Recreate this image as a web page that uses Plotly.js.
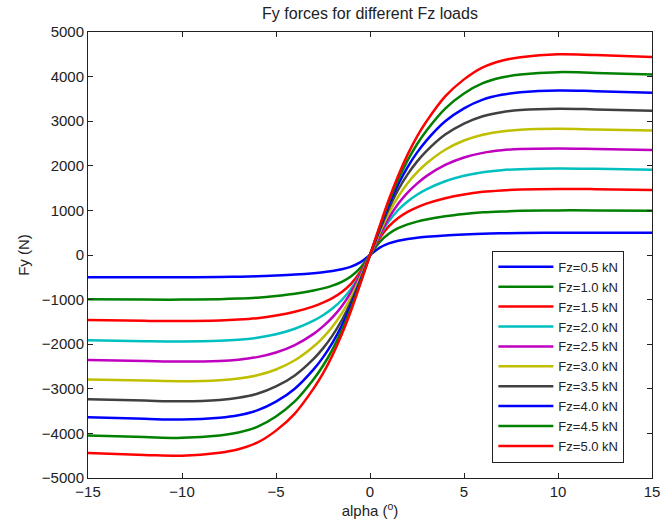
<!DOCTYPE html>
<html>
<head>
<meta charset="utf-8">
<script src="https://cdn.plot.ly/plotly-3.0.1.min.js"></script>
<style>
html,body{margin:0;padding:0;background:#fff;}
#chart{width:664px;height:528px;}
</style>
</head>
<body>
<div id="chart"></div>
<script>
// slip angle alpha (degrees)
const alpha = [-15,-12,-10,-8,-7,-6,-5,-4,-3,-2.5,-2,-1.5,-1,-0.5,0,0.5,1,1.5,2,2.5,3,4,5,6,7,8,10,12,15];

// lateral force Fy (N) for each vertical load
const fy05 = [-500,-500,-500,-494,-488,-478,-460,-438,-408,-388,-360,-320,-260,-160,0,160,260,320,360,388,408,438,460,478,488,494,500,500,500];
const fy10 = [-990,-999,-1000,-990,-977,-956,-919,-868,-796,-749,-686,-600,-476,-285,0,285,476,600,686,749,796,868,919,956,977,990,1000,999,990];
const fy15 = [-1460,-1476,-1480,-1467,-1448,-1416,-1358,-1273,-1151,-1069,-966,-829,-640,-370,0,370,640,829,966,1069,1151,1273,1358,1416,1448,1467,1480,1476,1460];
const fy20 = [-1910,-1933,-1940,-1925,-1902,-1857,-1778,-1654,-1472,-1351,-1200,-1009,-754,-417,0,417,754,1009,1200,1351,1472,1654,1778,1857,1902,1925,1940,1933,1910];
const fy25 = [-2354,-2378,-2390,-2376,-2347,-2290,-2187,-2020,-1769,-1601,-1398,-1147,-825,-430,0,430,825,1147,1398,1601,1769,2020,2187,2290,2347,2376,2390,2378,2354];
const fy30 = [-2789,-2816,-2830,-2808,-2771,-2698,-2567,-2361,-2052,-1851,-1608,-1310,-937,-487,0,487,937,1310,1608,1851,2052,2361,2567,2698,2771,2808,2830,2816,2789];
const fy35 = [-3233,-3265,-3280,-3249,-3202,-3112,-2948,-2700,-2329,-2093,-1807,-1463,-1039,-538,0,538,1039,1463,1807,2093,2329,2700,2948,3112,3202,3249,3280,3265,3233];
const fy40 = [-3639,-3674,-3690,-3648,-3593,-3484,-3288,-2997,-2565,-2295,-1971,-1583,-1118,-576,0,576,1118,1583,1971,2295,2565,2997,3288,3484,3593,3648,3690,3674,3639];
const fy45 = [-4045,-4083,-4100,-4046,-3980,-3853,-3621,-3284,-2788,-2484,-2120,-1689,-1185,-606,0,606,1185,1689,2120,2484,2788,3284,3621,3853,3980,4046,4100,4083,4045];
const fy50 = [-4442,-4482,-4500,-4433,-4356,-4208,-3938,-3555,-2993,-2655,-2250,-1778,-1238,-630,0,630,1238,1778,2250,2655,2993,3555,3938,4208,4356,4433,4500,4482,4442];

const seriesNames = ['Fz=0.5 kN','Fz=1.0 kN','Fz=1.5 kN','Fz=2.0 kN','Fz=2.5 kN','Fz=3.0 kN','Fz=3.5 kN','Fz=4.0 kN','Fz=4.5 kN','Fz=5.0 kN'];
const seriesData = [fy05, fy10, fy15, fy20, fy25, fy30, fy35, fy40, fy45, fy50];
const seriesColors = ['#0000FF','#008000','#FF0000','#00BFBF','#BF00BF','#BFBF00','#404040','#0000FF','#008000','#FF0000'];

const traces = seriesData.map((y, i) => ({
  x: alpha,
  y: y,
  type: 'scatter',
  mode: 'lines',
  name: seriesNames[i],
  line: {color: seriesColors[i], width: 2.5, shape: 'spline', smoothing: 1}
}));

const fontFam = '"Liberation Sans", Arial, Helvetica, sans-serif';
const txtColor = '#222222';

const layout = {
  width: 664,
  height: 528,
  margin: {l: 88, r: 12, t: 32, b: 50},
  paper_bgcolor: '#ffffff',
  plot_bgcolor: '#ffffff',
  font: {family: fontFam, size: 15, color: txtColor},
  title: {
    text: 'Fy forces for different Fz loads',
    font: {family: fontFam, size: 16, color: txtColor},
    x: 0.5 + (88 - 12) / 2 / 664,
    xanchor: 'center',
    y: 1 - 13 / 528,
    yanchor: 'middle'
  },
  showlegend: true,
  legend: {
    x: 0.951,
    y: 0.034,
    xanchor: 'right',
    yanchor: 'bottom',
    bgcolor: '#ffffff',
    bordercolor: txtColor,
    borderwidth: 1,
    font: {family: fontFam, size: 13, color: txtColor},
    tracegroupgap: 0,
    itemwidth: 55
  },
  xaxis: {
    range: [-15, 15],
    tickvals: [-15, -10, -5, 0, 5, 10, 15],
    ticks: 'inside',
    ticklen: 5,
    tickcolor: txtColor,
    showline: true,
    linecolor: txtColor,
    linewidth: 1,
    mirror: 'ticks',
    showgrid: false,
    zeroline: false,
    tickfont: {family: fontFam, size: 15, color: txtColor},
    title: {text: 'alpha (<sup>o</sup>)', font: {family: fontFam, size: 15, color: txtColor}, standoff: 4}
  },
  yaxis: {
    range: [-5000, 5000],
    tickvals: [-5000,-4000,-3000,-2000,-1000,0,1000,2000,3000,4000,5000],
    ticks: 'inside',
    ticklen: 5,
    tickcolor: txtColor,
    showline: true,
    linecolor: txtColor,
    linewidth: 1,
    mirror: 'ticks',
    showgrid: false,
    zeroline: false,
    tickfont: {family: fontFam, size: 15, color: txtColor},
    title: {text: 'Fy (N)', font: {family: fontFam, size: 15, color: txtColor}, standoff: 8}
  }
};

Plotly.newPlot('chart', traces, layout, {displayModeBar: false, staticPlot: true});
</script>
</body>
</html>
